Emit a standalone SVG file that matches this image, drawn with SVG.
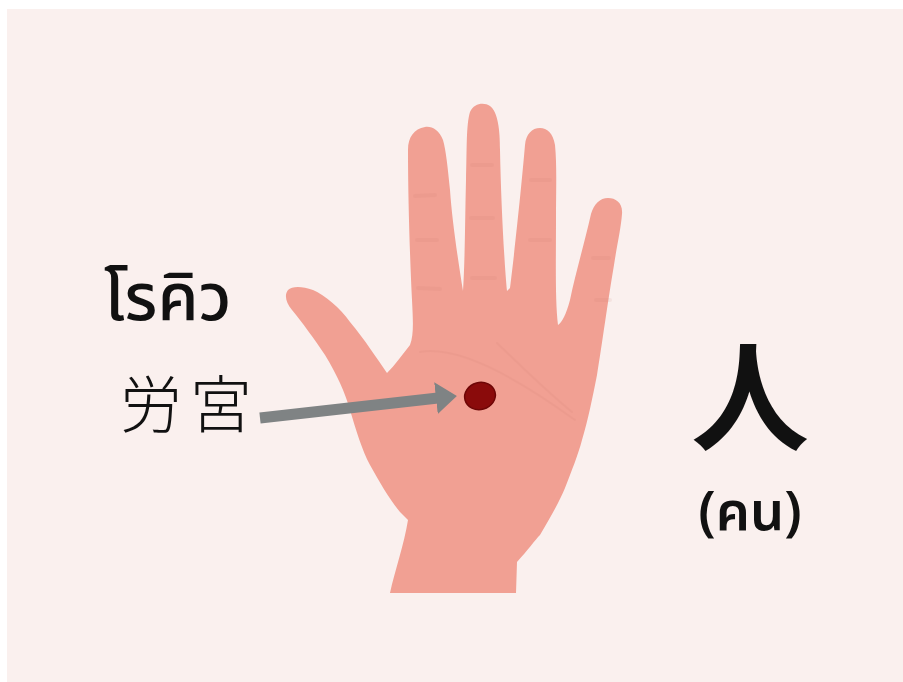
<svg xmlns="http://www.w3.org/2000/svg" width="903" height="682" viewBox="0 0 903 682">
  <style>
    .thai { font-family: "Noto Sans Thai", "Noto Sans Thai Looped", "Noto Sans", sans-serif; fill: #111; }
    .cjk { font-family: "Noto Sans CJK JP", "Noto Sans CJK SC", sans-serif; fill: #111; }
    .crease { fill: none; stroke: #c9786c; stroke-linecap: round; opacity: 0.1; }
  </style>
  <defs>
    <marker id="arrowhead" markerUnits="userSpaceOnUse" markerWidth="22" markerHeight="34" refX="2" refY="16" orient="auto">
      <path d="M0,0 L21,16 L0,32 Z" fill="#7f8384"/>
    </marker>
  </defs>

  <!-- backdrop card -->
  <rect x="0" y="0" width="903" height="682" fill="#ffffff"/>
  <rect x="7" y="9" width="896" height="673" fill="#faf0ee"/>

  <!-- open hand -->
  <g id="hand">
    <path fill="#f1a093" d="
      M390,593 L516,593 L517,562
      C528,550 535,540 540,535
      C552,515 560,500 565,488
      C572,470 578,455 582,440
      C588,420 592,400 597,375
      C602,345 608,300 614,265
      C617,245 621,228 622,214
      C623,203 616,198 608,198
      C600,198 594,204 591,214
      C584,245 575,275 570,300
      C566,315 562,322 558,325
      C555,300 556,260 556,220
      C556,190 557,165 555,145
      C553,133 547,128 540,128
      C532,128 526,134 525,145
      C522,180 516,240 510,288
      L507,291
      C504,260 501,200 500,150
      C500,130 498,112 490,106
      C484,102 474,103 470,112
      C466,125 467,150 466,180
      C465,220 465,260 463,291
      C458,260 452,220 450,190
      C448,170 446,150 443,140
      C439,130 432,126 425,127
      C414,129 408,137 408,150
      C408,200 410,260 412,300
      C413,320 414,335 410,345
      C402,355 395,365 387,373
      C378,360 365,340 350,322
      C340,308 325,295 313,290
      C302,286 292,286 288,290
      C284,295 286,303 292,310
      C302,322 315,340 325,355
      C337,375 345,392 350,410
      C356,430 362,450 370,465
      C380,483 390,500 400,512
      L408,520
      C404,545 395,570 390,593 Z"/>
    <!-- finger creases and palm lines -->
    <g class="crease" stroke-width="4">
      <path d="M415,196 L435,195"/>
      <path d="M417,240 L437,240"/>
      <path d="M418,288 L440,289"/>
      <path d="M472,165 L492,165"/>
      <path d="M471,218 L493,218"/>
      <path d="M472,278 L495,278"/>
      <path d="M531,180 L550,180"/>
      <path d="M530,240 L550,240"/>
      <path d="M593,258 L609,258"/>
      <path d="M596,300 L610,300"/>
    </g>
    <g class="crease" stroke-width="2">
      <path d="M420,352 C460,345 520,380 575,420"/>
      <path d="M497,343 C520,365 545,390 572,412"/>
    </g>
  </g>

  <!-- acupoint marker -->
  <g id="point">
    <ellipse cx="480" cy="396" rx="15.5" ry="13.5" transform="rotate(-15 480 396)" fill="#8a0b0b" stroke="#6e0606" stroke-width="1.5"/>
  </g>

  <!-- connectors -->
  <g id="connectors">
    <line x1="260" y1="418" x2="438" y2="398" stroke="#7f8384" stroke-width="11" marker-end="url(#arrowhead)"/>
  </g>

  <!-- labels -->
  <g id="label-thai">
    <text class="thai" x="104" y="320" font-size="66" font-weight="500">โรคิว</text>
  </g>
  <g id="label-kanji">
    <text class="cjk" x="120" y="428" font-size="62" font-weight="300" letter-spacing="8">労宮</text>
  </g>
  <g id="label-person">
    <text class="cjk" x="750" y="442" font-size="118" font-weight="600" text-anchor="middle">人</text>
    <text class="thai" x="750" y="530" font-size="54" font-weight="600" text-anchor="middle">(คน)</text>
  </g>
</svg>
